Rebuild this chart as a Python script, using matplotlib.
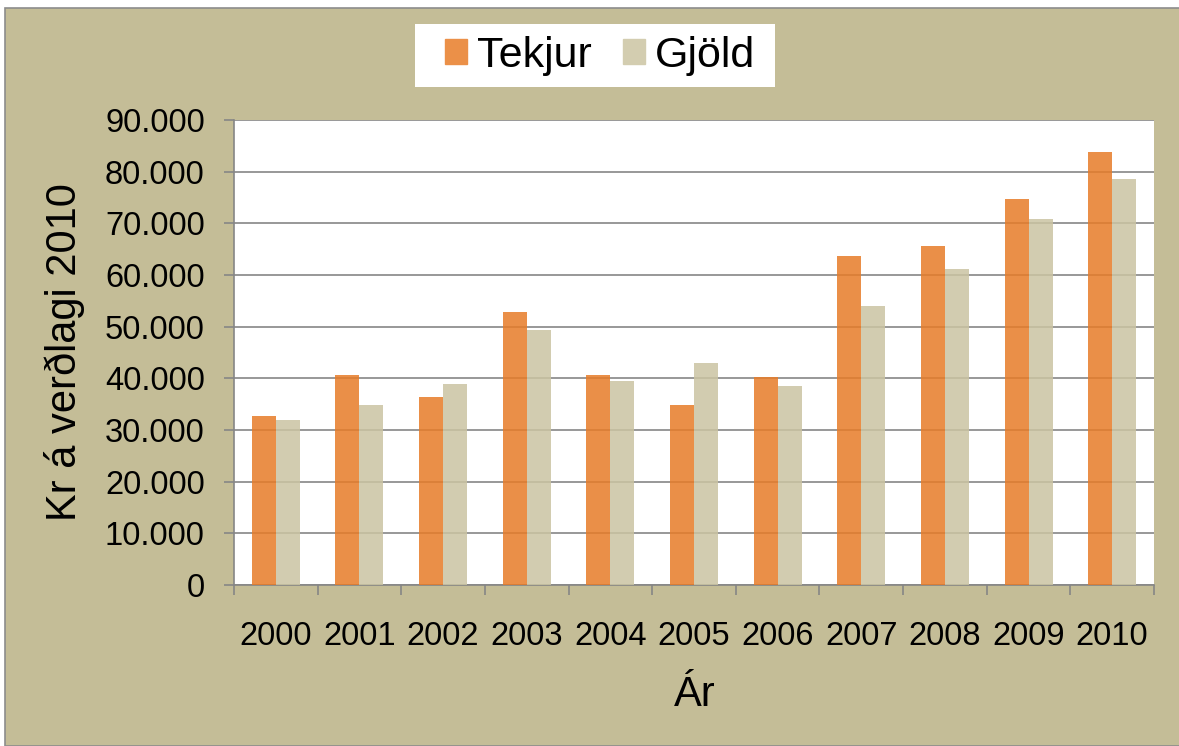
import matplotlib
matplotlib.use("Agg")
import matplotlib.pyplot as plt
import numpy as np
from matplotlib.patches import Rectangle
from matplotlib.ticker import FuncFormatter

plt.rcParams['font.family'] = ['Liberation Sans', 'DejaVu Sans']

# gögn (lesin af myndinni)
ar = ["2000", "2001", "2002", "2003", "2004", "2005",
      "2006", "2007", "2008", "2009", "2010"]
tekjur = [32800, 40700, 36400, 52900, 40600, 34800,
          40200, 63600, 65700, 74800, 83800]
gjold = [31900, 34800, 39000, 49300, 39500, 43000,
         38600, 54000, 61200, 70800, 78600]

bakgrunnur = "#C4BD97"
litur_tekjur = "#E77C28"
litur_gjold = "#CBC4A2"
grar = "#868686"

W, H = 1179, 746
fig = plt.figure(figsize=(W / 100, H / 100), dpi=100)
fig.patch.set_facecolor("white")
# rammi utan um allt
fig.patches.append(Rectangle((5 / W, 0), 1.0, 1 - 8 / H, transform=fig.transFigure,
                             facecolor=bakgrunnur, edgecolor="#8C8C8C", linewidth=1.2,
                             zorder=-10))
# hvítur kassi fyrir skýringar
fig.patches.append(Rectangle((415 / W, 1 - 87 / H), 360 / W, 63 / H,
                             transform=fig.transFigure, facecolor="white",
                             edgecolor="none", zorder=-5))

ax = fig.add_axes([234 / W, 1 - 585 / H, 920 / W, 465 / H])
ax.set_facecolor("white")

x = np.arange(len(ar))
breidd = 0.287
ax.bar(x - breidd / 2, tekjur, breidd, color=litur_tekjur, alpha=0.85,
       label="Tekjur", zorder=3)
ax.bar(x + breidd / 2, gjold, breidd, color=litur_gjold, alpha=0.85,
       label="Gjöld", zorder=3)

ax.set_xlim(-0.5, len(ar) - 0.5)
ax.set_ylim(0, 90000)
ax.set_yticks(np.arange(0, 90001, 10000))
ax.yaxis.set_major_formatter(FuncFormatter(lambda v, p: f"{int(v):,}".replace(",", ".")))
ax.yaxis.grid(True, color=grar, linewidth=1.2, zorder=1)
ax.set_axisbelow(True)

ax.set_xticks(x)
ax.set_xticklabels(ar)
ax.set_xticks(np.arange(-0.5, len(ar)), minor=True)
ax.tick_params(axis="x", which="major", length=0, pad=26, labelsize=23.5)
ax.tick_params(axis="x", which="minor", length=7, width=1.2, color=grar, direction="out")
ax.tick_params(axis="y", length=7, width=1.2, color=grar, pad=14, labelsize=23.5)

for s in ["top", "right"]:
    ax.spines[s].set_visible(False)
for s in ["left", "bottom"]:
    ax.spines[s].set_color(grar)
    ax.spines[s].set_linewidth(1.2)

fig.text(65 / W, 1 - 352 / H, "Kr á verðlagi 2010", rotation=90,
         ha="center", va="center", fontsize=30)
fig.text(695 / W, 1 - 695 / H, "Ár", ha="center", va="center", fontsize=30)

leg = ax.legend(loc="center", bbox_to_anchor=(600 / W, 1 - 55.5 / H),
                bbox_transform=fig.transFigure, ncol=2, fontsize=31,
                frameon=False, handlelength=0.51, handleheight=0.51,
                handletextpad=0.23, columnspacing=0.72, borderpad=0,
                borderaxespad=0)
for h in leg.legend_handles:
    h.set_alpha(1)
leg.legend_handles[0].set_color("#EB9048")
leg.legend_handles[1].set_color("#D3CDB0")

fig.savefig("out.png", dpi=100, facecolor=fig.get_facecolor())
